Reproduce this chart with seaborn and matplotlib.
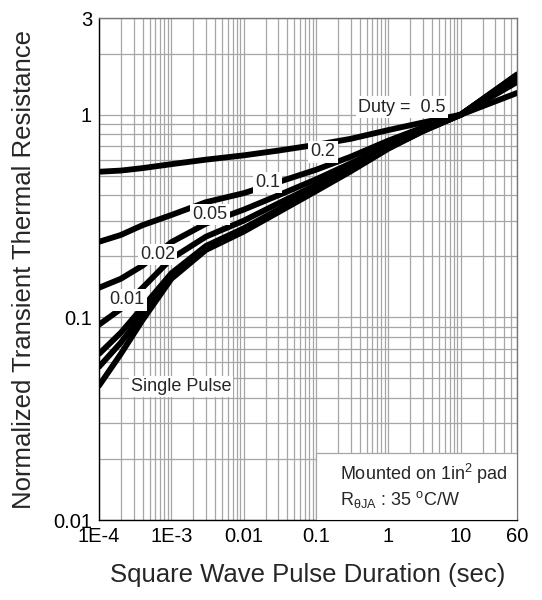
import numpy as np
import pandas as pd
import matplotlib
matplotlib.use("Agg")
import matplotlib.pyplot as plt
import matplotlib.ticker as mticker
from matplotlib.patches import Rectangle
import seaborn as sns

# Pulse duration (sec) at which the curves were read
pulse_time = [1e-4, 2e-4, 4e-4, 1e-3, 3e-3, 1e-2, 3e-2, 0.1, 0.3, 1, 3, 10, 60]

# Normalized transient thermal resistance per duty cycle
r_single = [0.046, 0.066, 0.097, 0.155, 0.215, 0.265, 0.33, 0.42, 0.525, 0.68, 0.83, 1.0, 1.58]
r_001 = [0.057, 0.075, 0.104, 0.160, 0.220, 0.27, 0.335, 0.425, 0.53, 0.685, 0.83, 1.0, 1.57]
r_002 = [0.066, 0.084, 0.112, 0.165, 0.225, 0.275, 0.34, 0.43, 0.535, 0.69, 0.835, 1.0, 1.56]
r_005 = [0.092, 0.110, 0.140, 0.195, 0.25, 0.30, 0.365, 0.45, 0.55, 0.70, 0.84, 1.0, 1.53]
r_01 = [0.140, 0.155, 0.180, 0.235, 0.29, 0.34, 0.40, 0.48, 0.575, 0.71, 0.85, 1.0, 1.50]
r_02 = [0.236, 0.255, 0.285, 0.32, 0.37, 0.41, 0.465, 0.535, 0.62, 0.745, 0.865, 1.0, 1.45]
r_05 = [0.523, 0.53, 0.545, 0.57, 0.60, 0.63, 0.665, 0.71, 0.76, 0.84, 0.915, 1.0, 1.28]

curvas = {
    "Single": r_single, "0.01": r_001, "0.02": r_002, "0.05": r_005,
    "0.1": r_01, "0.2": r_02, "0.5": r_05,
}

x_ticks = [1e-4, 1e-3, 0.01, 0.1, 1, 10, 60]
x_tick_labels = ["1E-4", "1E-3", "0.01", "0.1", "1", "10", "60"]
y_ticks = [0.01, 0.1, 1, 3]
y_tick_labels = ["0.01", "0.1", "1", "3"]

# curve labels (text, x, y) as they sit on the chart
rotulos = [
    ("Duty =  0.5", 1.55, 1.09),
    ("0.2", 0.125, 0.655),
    ("0.1", 0.0214, 0.463),
    ("0.05", 3.43e-3, 0.322),
    ("0.02", 6.4e-4, 0.204),
    ("0.01", 2.44e-4, 0.122),
    ("Single Pulse", 1.36e-3, 0.0456),
]

df = pd.concat(
    [pd.DataFrame({"t": pulse_time, "r": v, "Duty": k}) for k, v in curvas.items()],
    ignore_index=True,
)

sns.set_style("white")
plt.rcParams["font.family"] = ["Liberation Sans", "DejaVu Sans"]
plt.rcParams["mathtext.fontset"] = "custom"
plt.rcParams["mathtext.rm"] = "Liberation Sans"

fig = plt.figure(figsize=(5.42, 6.0), dpi=100)
ax = fig.add_axes([0.1827, 0.1333, 0.7713, 0.8367])

sns.lineplot(
    data=df, x="t", y="r", hue="Duty", palette=["black"] * len(curvas),
    linewidth=4.2, legend=False, sort=False, ax=ax, zorder=3,
)

ax.set_xscale("log")
ax.set_yscale("log")
ax.set_xlim(1e-4, 60)
ax.set_ylim(0.01, 3)

ax.xaxis.set_major_locator(mticker.FixedLocator(x_ticks))
ax.xaxis.set_major_formatter(mticker.FixedFormatter(x_tick_labels))
ax.yaxis.set_major_locator(mticker.FixedLocator(y_ticks))
ax.yaxis.set_major_formatter(mticker.FixedFormatter(y_tick_labels))
for eixo in (ax.xaxis, ax.yaxis):
    eixo.set_minor_locator(mticker.LogLocator(base=10, subs=np.arange(2, 10), numticks=20))
    eixo.set_minor_formatter(mticker.NullFormatter())

ax.set_axisbelow(True)
ax.grid(True, which="both", color="#a6a6a6", linewidth=0.9)
ax.tick_params(which="both", direction="in", length=4, color="#555555",
               labelsize=14.5, labelcolor="black")
ax.tick_params(axis="x", pad=5)
ax.tick_params(axis="y", pad=5)

for lado in ("left", "bottom"):
    ax.spines[lado].set_color("black")
    ax.spines[lado].set_linewidth(1.0)
for lado in ("top", "right"):
    ax.spines[lado].set_color("#777777")
    ax.spines[lado].set_linewidth(1.0)

for texto, xv, yv in rotulos:
    ax.text(xv, yv, texto, fontsize=13, ha="center", va="center", zorder=5,
            bbox=dict(facecolor="white", edgecolor="none", pad=1.5))

# info box at the bottom right
ax.add_patch(Rectangle((0.1, 0.01), 60 - 0.1, 0.0214 - 0.01, facecolor="white",
                       edgecolor="#a6a6a6", linewidth=0.9, zorder=4))
ax.text(0.577, 0.092, r"Mounted on 1in$^{\mathregular{2}}$ pad", transform=ax.transAxes,
        fontsize=13, ha="left", va="center", zorder=6)
ax.text(0.577, 0.040, r"R$_{\mathregular{θJA}}$ : 35 $^{\mathregular{o}}$C/W", transform=ax.transAxes,
        fontsize=13, ha="left", va="center", zorder=6)

ax.set_xlabel("Square Wave Pulse Duration (sec)", fontsize=18.5, labelpad=12)
ax.set_ylabel("Normalized Transient Thermal Resistance", fontsize=18.5, labelpad=12)

fig.savefig("out.png", dpi=100)
